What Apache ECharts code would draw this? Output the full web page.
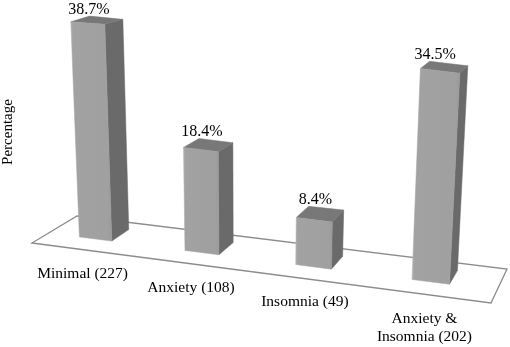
<!DOCTYPE html>
<html><head><meta charset="utf-8">
<style>html,body{margin:0;padding:0;background:#fff}#c{width:510px;height:347px}</style>
<script src="https://cdn.jsdelivr.net/npm/echarts@6/dist/echarts.min.js"></script>
</head><body><div id="c"></div>
<script>
const categories = ['Minimal (227)', 'Anxiety (108)', 'Insomnia (49)', 'Anxiety &\nInsomnia (202)'];
const percentages = [38.7, 18.4, 8.4, 34.5];
const yMax = 40;

// Perspective of the tilted floor (front-left, front-right, back-right, back-left)
const floor = [[32, 243], [491, 303], [507, 269], [77, 216]];
const [p0, p1, p2, p3] = floor;
const dx1 = p1[0] - p2[0], dx2 = p3[0] - p2[0], dx3 = p0[0] - p1[0] + p2[0] - p3[0];
const dy1 = p1[1] - p2[1], dy2 = p3[1] - p2[1], dy3 = p0[1] - p1[1] + p2[1] - p3[1];
const den = dx1 * dy2 - dy1 * dx2;
const g = (dx3 * dy2 - dy3 * dx2) / den, h = (dx1 * dy3 - dy1 * dx3) / den;
const a = p1[0] - p0[0] + g * p1[0], b = p3[0] - p0[0] + h * p3[0];
const d = p1[1] - p0[1] + g * p1[1], e = p3[1] - p0[1] + h * p3[1];
function onFloor(u, v) {
  const w = g * u + h * v + 1;
  return [(a * u + b * v + p0[0]) / w, (d * u + e * v + p0[1]) / w];
}
// Rise above a floor point, with converging verticals
function rise(pt, px, k) {
  const gain = 1 + Math.max(0, Math.min(82, pt[0] - 331)) * 0.00113 - Math.max(0, 112 - pt[0]) * 0.00022;
  const hgt = px * gain * k;
  return [pt[0] + (pt[0] - 246) * 0.00024 * hgt, pt[1] - hgt];
}
const barU = 0.078, uShift = -0.011, vFront = 0.355, vBack = 0.77, backK = 0.97;
const fontFamily = '"Liberation Serif","Times New Roman",serif';

function renderFloor() {
  return { type: 'polygon', silent: true,
    shape: { points: [onFloor(0,0), onFloor(1,0), onFloor(1,1), onFloor(0,1)] },
    style: { fill: '#fff', stroke: '#8c8c8c', lineWidth: 1.3 } };
}
function renderBar(params, api) {
  const i = api.value(0), val = api.value(1);
  const cs = params.coordSys;
  const u = (api.coord([i, 0])[0] - cs.x) / cs.width + uShift;
  const px = api.size([0, val])[1];
  const uL = u - barU / 2, uR = u + barU / 2;
  const fl = onFloor(uL, vFront), fr = onFloor(uR, vFront), br = onFloor(uR, vBack), bl = onFloor(uL, vBack);
  const tfl = rise(fl, px, 1), tfr = rise(fr, px, 1), tbr = rise(br, px, backK), tbl = rise(bl, px, backK);
  const poly = (pts, fill) => ({ type: 'polygon', shape: { points: pts },
    style: { fill: fill, stroke: fill, lineWidth: 0.5 } });
  const frontFill = new echarts.graphic.LinearGradient(0, 0, 1, 0, [
    { offset: 0, color: '#b4b4b4' }, { offset: 0.06, color: '#a2a2a2' },
    { offset: 0.9, color: '#a0a0a0' }, { offset: 1, color: '#9a9a9a' }]);
  const topX = (tfl[0] + tfr[0]) / 2, topY = Math.min(tbl[1], tbr[1]);
  const botX = (fl[0] + fr[0]) / 2, botY = (fl[1] + fr[1]) / 2;
  const valueDx = 1 - Math.max(0, topX - 320) * 0.05;
  const nameDx = -13 + (botX - 96) * 0.02;
  const nameDy = i === 3 ? 28 : 26;
  return { type: 'group', children: [
    poly([fr, br, tbr, tfr], '#6a6a6a'),
    poly([tfl, tfr, tbr, tbl], '#787878'),
    poly([fl, fr, tfr, tfl], frontFill),
    { type: 'text', style: { x: topX + valueDx, y: topY - 6.5, text: val.toFixed(1) + '%', align: 'center', verticalAlign: 'middle',
        font: '16px ' + fontFamily, fill: '#000' } },
    { type: 'text', style: { x: botX + nameDx, y: botY + nameDy, text: categories[i], align: 'center', verticalAlign: 'top',
        font: '15.5px ' + fontFamily, fill: '#000', lineHeight: 18 } }
  ] };
}

const chart = echarts.init(document.getElementById('c'), null, { renderer: 'canvas' });
chart.setOption({
  animation: false,
  backgroundColor: '#fff',
  grid: { left: 32, width: 475, top: 20, height: 224, outerBoundsMode: 'none' },
  xAxis: { type: 'category', data: categories, show: false },
  yAxis: { type: 'value', min: 0, max: yMax, name: 'Percentage', nameLocation: 'middle', nameGap: 16,
    nameRotate: 90, nameTextStyle: { fontFamily: fontFamily, fontSize: 15, color: '#000' },
    axisLine: { show: false }, axisTick: { show: false }, axisLabel: { show: false }, splitLine: { show: false } },
  series: [
    { type: 'custom', data: [[0, 0]], renderItem: renderFloor, z: 1, silent: true },
    { type: 'custom', data: percentages.map((v, i) => [i, v]), encode: { x: 0, y: 1 }, renderItem: renderBar, z: 2, clip: false }
  ]
});
</script></body></html>
